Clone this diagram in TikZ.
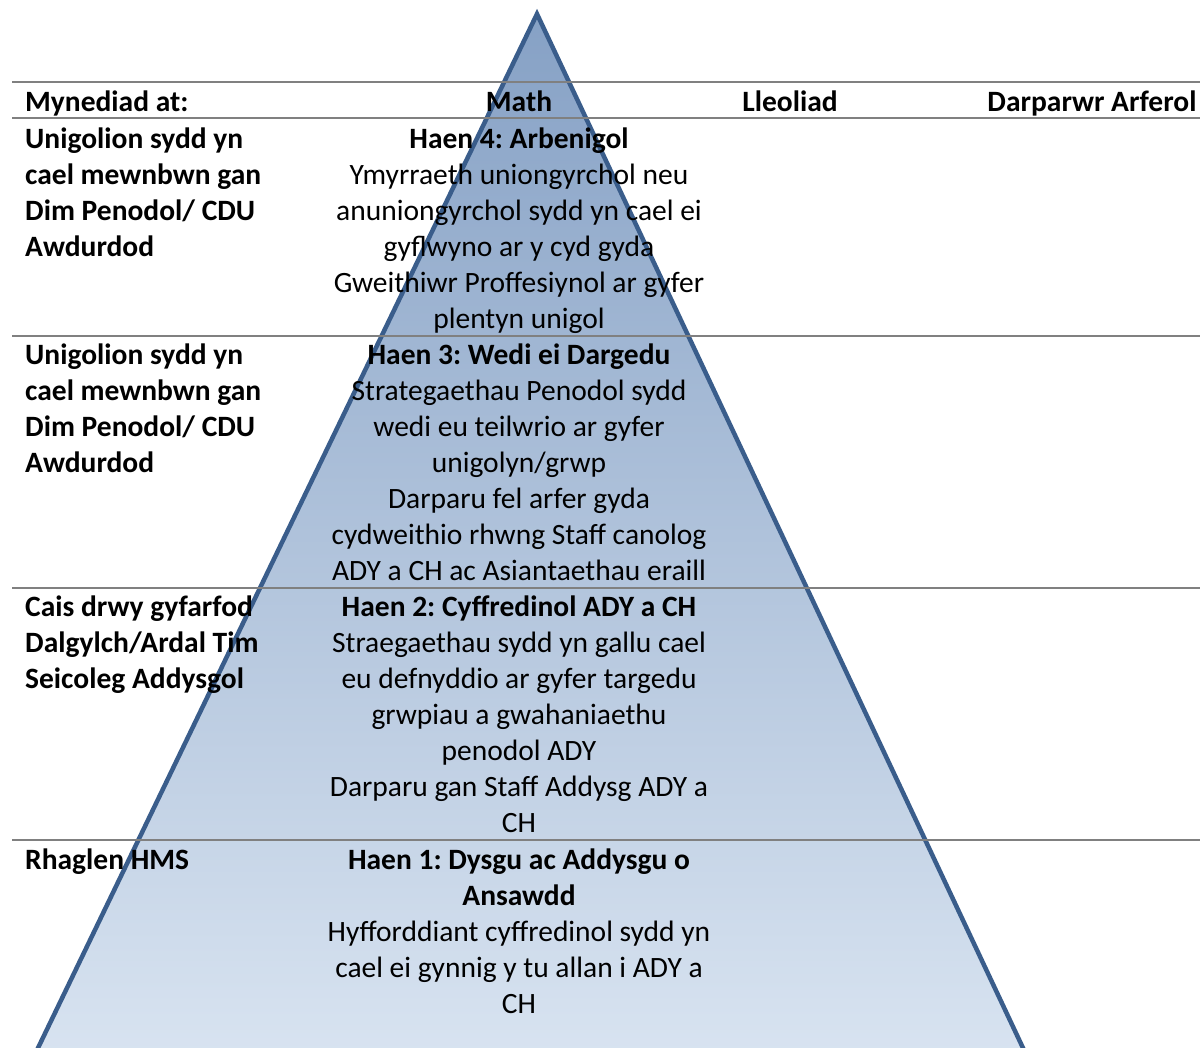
\documentclass[tikz,border=0pt]{standalone}
\usepackage{fontspec}
\setmainfont{Carlito}
\usepackage{xcolor}
\usetikzlibrary{positioning, calc}
\definecolor{tierline}{HTML}{3A5D8B}
\definecolor{tiertop}{HTML}{86A1C5}
\definecolor{tierbot}{HTML}{D9E4F1}
\definecolor{rulegray}{HTML}{808080}
\frenchspacing

\begin{document}
\begin{tikzpicture}[
    x=1pt, y=-1pt,
    rule/.style={draw=rulegray, line width=2pt},
    pyramid/.style={draw=tierline, line width=4.5pt, line join=miter},
    txt/.style={inner sep=0pt, font=\fontsize{29.5}{36}\selectfont},
    hdr/.style={txt, font=\fontsize{29.5}{36}\selectfont\bfseries, anchor=base},
    access/.style={txt, font=\fontsize{29.5}{36}\selectfont\bfseries, align=left, anchor=north west},
    tier/.style={txt, align=center, anchor=north}
  ]
  \useasboundingbox (0,0) rectangle (1200,1048);

  % the pyramid
  \coordinate (apex) at (537,14);
  \coordinate (baseL) at ($(apex)!1.02!(38,1048)$);
  \coordinate (baseR) at ($(apex)!1.02!(1023,1048)$);
  \shade[top color=tiertop, bottom color=tierbot] (apex) -- (baseL) -- (baseR) -- cycle;
  \draw[pyramid] (baseL) -- (apex) -- (baseR);

  % table rules
  \foreach \y in {82,118,336,588,840}
    \draw[rule] (12,\y) -- (1200,\y);

  % header row
  \node (hAccess) [hdr, anchor=base west] at (25,111.5) {Mynediad at:};
  \node (hType) [hdr] at (519,111.5) {Math};
  \node (hPlace) [hdr] at (790,111.5) {Lleoliad};
  \node (hProv) [hdr] at (1092,111.5) {Darparwr Arferol};

  % tier 4
  \node (a4) [access] at (25,123.5) {\strut Unigolion sydd yn\\cael mewnbwn gan\\Dim Penodol/ CDU\\Awdurdod};
  \node (t4) [tier] at (519,123.5) {\strut\textbf{Haen 4: Arbenigol}\\Ymyrraeth uniongyrchol neu\\anuniongyrchol sydd yn cael ei\\gyflwyno ar y cyd gyda\\Gweithiwr Proffesiynol ar gyfer\\plentyn unigol};

  % tier 3
  \node (a3) [access] at (25,339.5) {\strut Unigolion sydd yn\\cael mewnbwn gan\\Dim Penodol/ CDU\\Awdurdod};
  \node (t3) [tier] at (519,339.5) {\strut\textbf{Haen 3: Wedi ei Dargedu}\\Strategaethau Penodol sydd\\wedi eu teilwrio ar gyfer\\unigolyn/grwp\\Darparu fel arfer gyda\\cydweithio rhwng Staff canolog\\ADY a CH ac Asiantaethau eraill};

  % tier 2
  \node (a2) [access] at (25,591.5) {\strut Cais drwy gyfarfod\\Dalgylch/Ardal Tim\\Seicoleg Addysgol};
  \node (t2) [tier] at (519,591.5) {\strut\textbf{Haen 2: Cyffredinol ADY a CH}\\Straegaethau sydd yn gallu cael\\eu defnyddio ar gyfer targedu\\grwpiau a gwahaniaethu\\penodol ADY\\Darparu gan Staff Addysg ADY a\\CH};

  % tier 1
  \node (a1) [access] at (25,844.5) {\strut Rhaglen HMS};
  \node (t1) [tier] at (519,844.5) {\strut\textbf{Haen 1: Dysgu ac Addysgu o}\\\textbf{Ansawdd}\\Hyfforddiant cyffredinol sydd yn\\cael ei gynnig y tu allan i ADY a\\CH};
\end{tikzpicture}
\end{document}
